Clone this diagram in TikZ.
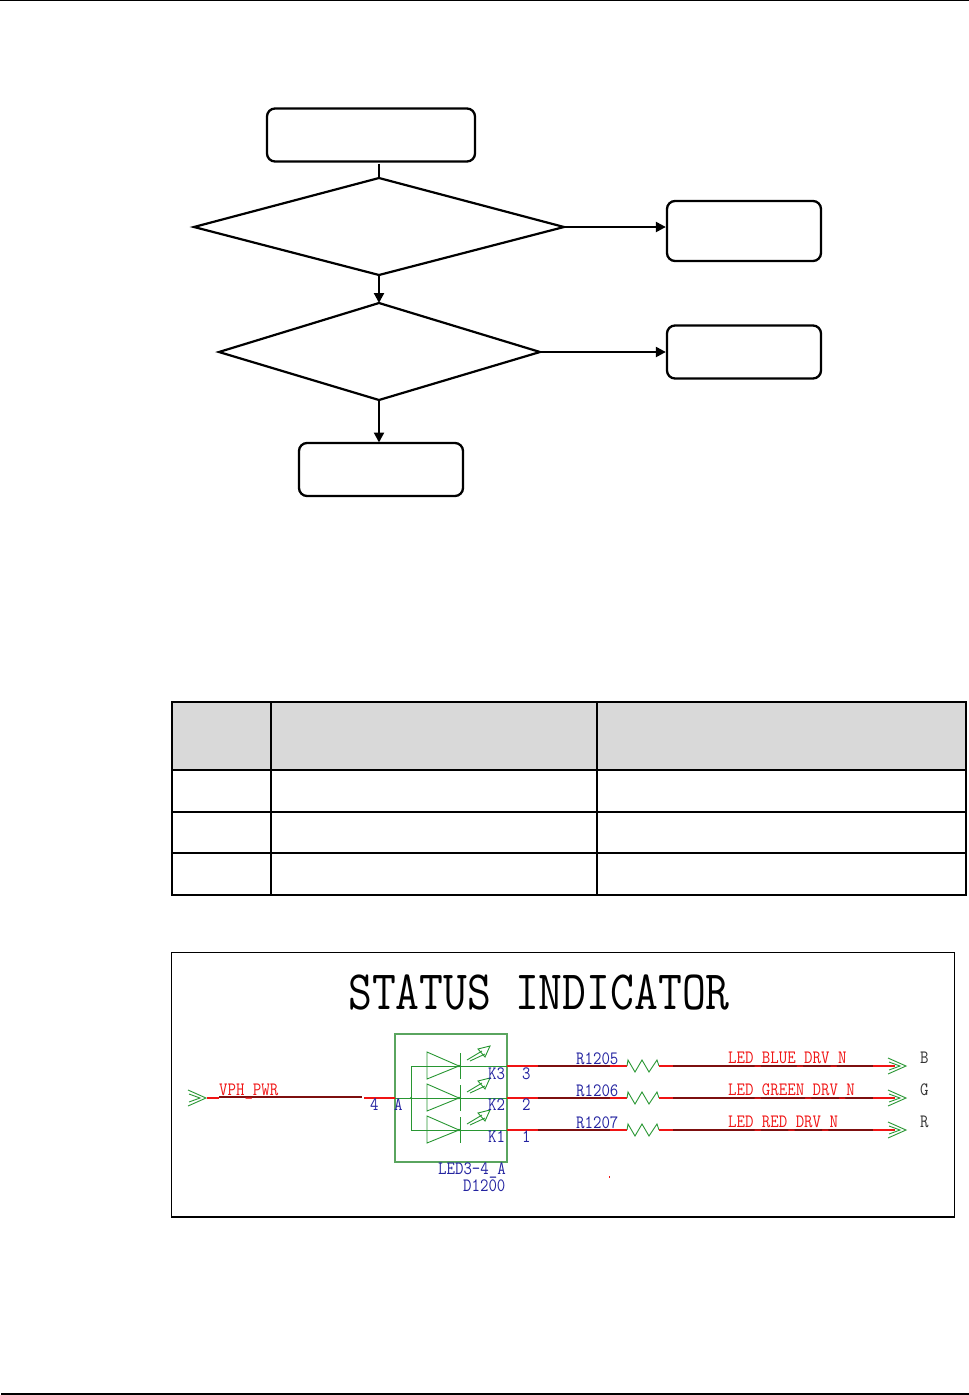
\documentclass[tikz,border=0pt]{standalone}
\usepackage{fontspec}
\usetikzlibrary{arrows.meta,shapes.geometric}
\definecolor{schgreen}{RGB}{40,150,50}
\definecolor{boxgreen}{RGB}{90,165,95}
\definecolor{netred}{RGB}{240,20,20}
\definecolor{wirered}{RGB}{125,15,15}
\definecolor{pinblue}{RGB}{35,35,160}
\definecolor{headgrey}{RGB}{217,217,217}
\tikzset{
  flowbox/.style={draw,line width=2.3pt,rounded corners=8pt,inner sep=0pt},
  flowline/.style={line width=2.2pt,-{Triangle[length=10pt,width=10pt]}},
  flowplain/.style={line width=2.2pt},
  tabthick/.style={line width=2pt},
  tabthin/.style={line width=1.2pt},
  green/.style={draw=schgreen,line width=.9pt},
  netlabel/.style={font=\ttfamily\fontsize{16.4}{16}\selectfont,text=netred,inner sep=0pt,anchor=base west,yscale=1.15,transform shape},
  pinlabel/.style={font=\ttfamily\fontsize{16.4}{16}\selectfont,text=pinblue,inner sep=0pt,anchor=base west,yscale=1.15,transform shape},
  blacklabel/.style={font=\ttfamily\fontsize{16.4}{16}\selectfont,text=black!80,inner sep=0pt,anchor=base west,yscale=1.15,transform shape},
  wire/.style={draw=wirered,line width=1.1pt},
  stub/.style={draw=netred,line width=1.1pt},
}
\newcommand{\ledsym}[1]{%
  \draw[green] (427,#1-14) -- (459,#1) -- (427,#1+13) -- cycle;
  \draw[green] (460,#1-13) -- (460,#1+13);
  \draw[green] (467,#1-6) -- (482,#1-15) (470,#1-5) -- (485,#1-12);
  \draw[green] (478,#1-17) -- (490,#1-20) -- (485,#1-9) -- cycle;
  \fill[schgreen] (459,#1) circle (1.3pt);
}
\newcommand{\chevron}[2]{%
  \draw[green] (#1,#2-8) -- (#1+18,#2) -- (#1,#2+8) (#1+1,#2-4) -- (#1+12,#2) -- (#1+1,#2+4);
}
\newcommand{\resistor}[2]{%
  \draw[green] (#1,#2) -- (#1+1,#2-6) -- (#1+8,#2+6) -- (#1+15,#2-6) -- (#1+22,#2+6) -- (#1+30,#2-6) -- (#1+32,#2);
}
\begin{document}
\begin{tikzpicture}[x=1pt,y=-1pt]
\useasboundingbox (0,0) rectangle (969,1395);
% page rules
\draw[line width=1.2pt] (0,0.6) -- (969,0.6);
\draw[line width=1.2pt] (1,1394) -- (969,1394);
% flowchart
\node[flowbox,minimum width=208pt,minimum height=53pt] (start) at (371,135) {};
\coordinate (d1n) at (379,178);
\coordinate (d1e) at (564,227);
\coordinate (d1s) at (379,275);
\coordinate (d1w) at (194,227);
\draw[flowplain,line join=miter] (d1n) -- (d1e) -- (d1s) -- (d1w) -- cycle;
\coordinate (d2n) at (379,303);
\coordinate (d2e) at (540,352);
\coordinate (d2s) at (379,400);
\coordinate (d2w) at (219,352);
\draw[flowplain,line join=miter] (d2n) -- (d2e) -- (d2s) -- (d2w) -- cycle;
\node[flowbox,minimum width=154pt,minimum height=60pt] (r1) at (744,231) {};
\node[flowbox,minimum width=154pt,minimum height=53pt] (r2) at (744,352) {};
\node[flowbox,minimum width=164pt,minimum height=53pt] (end) at (381,469.5) {};
\coordinate (startout) at (379,163.5);
\draw[flowplain] (startout) -- (d1n);
\draw[flowline] (d1s) -- (d2n);
\draw[flowline] (d1e) -- (r1.west |- d1e);
\draw[flowline] (d2e) -- (r2.west);
\draw[flowline] (d2s) -- (379,442.5);
% table
\fill[headgrey] (172,702) rectangle (966,770);
\draw[tabthick] (172,702) -- (966,702) (172,812) -- (966,812);
\draw[tabthin] (172,770) -- (966,770) (172,853) -- (966,853) (171,895) -- (967,895);
\draw[tabthick] (172,701) -- (172,895.5) (271,701) -- (271,895.5) (597,701) -- (597,895.5) (966,701) -- (966,895.5);
% schematic
\draw[line width=1.2pt] (171.5,952.5) rectangle (954.5,1217);
\node[font=\ttfamily\fontsize{46.3}{46}\selectfont,inner sep=0pt,anchor=base west,yscale=1.2,transform shape] (title) at (348,1009) {STATUS INDICATOR};
\draw[draw=boxgreen,line width=1.3pt] (395,1034) rectangle (507,1162);
% LED group
\ledsym{1066}\ledsym{1098}\ledsym{1130}
\draw[green] (411,1066) -- (507,1066) (395,1098) -- (507,1098) (411,1130) -- (507,1130) (411,1066) -- (411,1130);
\fill[schgreen] (411,1098) circle (1.2pt);
% wires
\chevron{188}{1098}
\draw[stub] (207,1098) -- (219,1098);
\draw[wire] (219,1097) -- (362,1097);
\draw[stub] (364,1098) -- (395,1098);
\node[netlabel] (vph) at (219,1095) {VPH\_PWR};
\node[pinlabel] (p4) at (370,1110) {4};
\node[pinlabel] (pa) at (394,1110) {A};
\foreach \y/\pk/\pn/\rn/\nn/\col/\ky in {
  1066/K3/3/R1205/LED\_BLUE\_DRV\_N/B/1079,
  1098/K2/2/R1206/LED\_GREEN\_DRV\_N/G/1110,
  1130/K1/1/R1207/LED\_RED\_DRV\_N/R/1142}{
  \draw[stub] (507,\y) -- (538,\y);
  \draw[wire] (538,\y) -- (610,\y);
  \draw[stub] (610,\y) -- (627,\y);
  \resistor{627}{\y}
  \draw[stub] (659,\y) -- (673,\y);
  \draw[wire] (673,\y) -- (873,\y);
  \draw[stub] (873,\y) -- (895,\y);
  \chevron{888}{\y}
  \node[pinlabel] at (488,\ky) {\pk};
  \node[pinlabel] at (522,\ky) {\pn};
  \node[pinlabel] at (576,\y-2) {\rn};
  \node[netlabel] at (728,\y-3) {\nn};
  \node[blacklabel] at (920,\y-3) {\col};
}
\node[pinlabel] (ledname) at (438,1174) {LED3-4\_A};
\node[pinlabel] (dname) at (463,1191) {D1200};
\fill[netred] (608.5,1176) rectangle (610,1178);
\end{tikzpicture}
\end{document}
